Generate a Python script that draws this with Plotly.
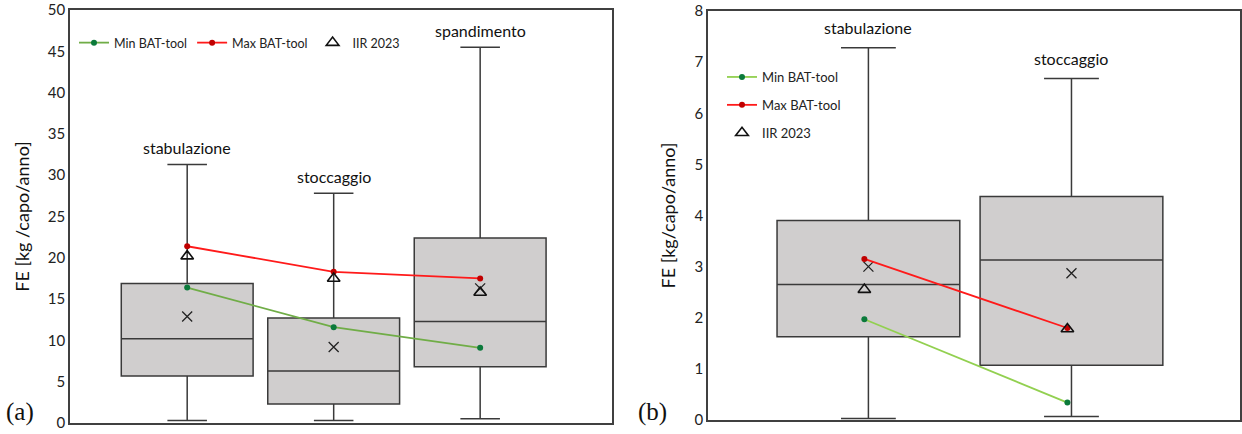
import plotly.graph_objects as go

# ---------------- data ----------------
cats_a = ["stabulazione", "stoccaggio", "spandimento"]
q1_a = [5.7, 2.3, 6.8]
med_a = [10.2, 6.3, 12.3]
q3_a = [16.9, 12.7, 22.4]
lo_a = [0.3, 0.3, 0.5]
hi_a = [31.3, 27.8, 45.5]
mean_a = [12.9, 9.2, 16.3]
iir_a = [20.2, 17.5, 15.8]
minbat_a = [16.4, 11.6, 9.1]
maxbat_a = [21.4, 18.3, 17.5]

cats_b = ["stabulazione", "stoccaggio"]
q1_b = [1.63, 1.07]
med_b = [2.65, 3.13]
q3_b = [3.9, 4.37]
lo_b = [0.03, 0.07]
hi_b = [7.28, 6.68]
mean_b = [3.0, 2.87]
iir_b = [2.55, 1.78]
minbat_b = [1.97, 0.34]
maxbat_b = [3.15, 1.8]

yticks_a = [0, 5, 10, 15, 20, 25, 30, 35, 40, 45, 50]
yticks_b = [0, 1, 2, 3, 4, 5, 6, 7, 8]

# ---------------- style ----------------
FONT = "Lato"
BOX_FILL = "#D0CECE"
BOX_LINE = "#3A3A3A"
GREEN_LINE_A = "#70AD47"
GREEN_LINE_B = "#92D050"
GREEN_MK = "#0B7A3B"
RED_LINE = "#FF1A1A"
RED_MK = "#C00000"

W, H = 1242, 434

def px_x(p):
    return p / W

def px_y(p):
    return 1 - p / H

fig = go.Figure()

xa = list(range(len(cats_a)))
xb = list(range(len(cats_b)))
off_b = -0.02

# ---- panel (a) ----
fig.add_trace(go.Box(x=xa, q1=q1_a, median=med_a, q3=q3_a, lowerfence=lo_a,
                     upperfence=hi_a, width=0.9, whiskerwidth=0.3,
                     fillcolor=BOX_FILL, line=dict(color=BOX_LINE, width=1.5),
                     boxpoints=False, showlegend=False, xaxis="x", yaxis="y"))
fig.add_trace(go.Scatter(x=xa, y=mean_a, mode="markers", showlegend=False,
                         marker=dict(symbol="x-thin-open", size=10, color="#222",
                                     line=dict(width=1.3, color="#222")),
                         xaxis="x", yaxis="y"))
fig.add_trace(go.Scatter(x=xa, y=minbat_a, mode="lines+markers", name="Min BAT-tool",
                         line=dict(color=GREEN_LINE_A, width=1.8),
                         marker=dict(color=GREEN_MK, size=6),
                         legend="legend", xaxis="x", yaxis="y"))
fig.add_trace(go.Scatter(x=xa, y=maxbat_a, mode="lines+markers", name="Max BAT-tool",
                         line=dict(color=RED_LINE, width=1.8),
                         marker=dict(color=RED_MK, size=6),
                         legend="legend", xaxis="x", yaxis="y"))
fig.add_trace(go.Scatter(x=xa, y=iir_a, mode="markers", name="IIR 2023",
                         marker=dict(symbol="triangle-up-open", size=11, color="#111",
                                     line=dict(width=1.6, color="#111")),
                         legend="legend", xaxis="x", yaxis="y"))

# ---- panel (b) ----
fig.add_trace(go.Box(x=xb, q1=q1_b, median=med_b, q3=q3_b, lowerfence=lo_b,
                     upperfence=hi_b, width=0.9, whiskerwidth=0.3,
                     fillcolor=BOX_FILL, line=dict(color=BOX_LINE, width=1.5),
                     boxpoints=False, showlegend=False, xaxis="x2", yaxis="y2"))
fig.add_trace(go.Scatter(x=xb, y=mean_b, mode="markers", showlegend=False,
                         marker=dict(symbol="x-thin-open", size=10, color="#222",
                                     line=dict(width=1.3, color="#222")),
                         xaxis="x2", yaxis="y2"))
xb_off = [v + off_b for v in xb]
fig.add_trace(go.Scatter(x=xb_off, y=minbat_b, mode="lines+markers", name="Min BAT-tool",
                         line=dict(color=GREEN_LINE_B, width=1.8),
                         marker=dict(color=GREEN_MK, size=6), legendgroup="g1",
                         legend="legend2", xaxis="x2", yaxis="y2"))
fig.add_trace(go.Scatter(x=xb_off, y=maxbat_b, mode="lines+markers", name="Max BAT-tool",
                         line=dict(color=RED_LINE, width=1.8),
                         marker=dict(color=RED_MK, size=6), legendgroup="g2",
                         legend="legend2", xaxis="x2", yaxis="y2"))
fig.add_trace(go.Scatter(x=xb_off, y=iir_b, mode="markers", name="IIR 2023",
                         marker=dict(symbol="triangle-up-open", size=11, color="#111",
                                     line=dict(width=1.6, color="#111")),
                         legendgroup="g3",
                         legend="legend2", xaxis="x2", yaxis="y2"))

# ---- annotations ----
ann = []
for i, c in enumerate(cats_a):
    ann.append(dict(x=i, y=hi_a[i], xref="x", yref="y", text=c, showarrow=False,
                    yanchor="middle", yshift=17, font=dict(family=FONT, size=16, color="#111")))
for i, c in enumerate(cats_b):
    ann.append(dict(x=i, y=hi_b[i], xref="x2", yref="y2", text=c, showarrow=False,
                    yanchor="middle", yshift=20, font=dict(family=FONT, size=16, color="#111")))
ann.append(dict(x=px_x(20), y=px_y(412), xref="paper", yref="paper", text="(a)",
                showarrow=False, xanchor="center", yanchor="middle",
                font=dict(family="Liberation Serif", size=25, color="#111")))
ann.append(dict(x=px_x(652), y=px_y(412), xref="paper", yref="paper", text="(b)",
                showarrow=False, xanchor="center", yanchor="middle",
                font=dict(family="Liberation Serif", size=25, color="#111")))

axis_common = dict(showgrid=False, zeroline=False, showline=True, mirror=True,
                   linecolor="#404040", linewidth=1.5, ticks="", automargin=False)

fig.update_layout(
    width=W, height=H, margin=dict(l=0, r=0, t=0, b=0),
    paper_bgcolor="white", plot_bgcolor="white",
    font=dict(family=FONT, color="#222"),
    xaxis=dict(domain=[px_x(70), px_x(612)], range=[-0.8, 2.9], showticklabels=False,
               **axis_common),
    yaxis=dict(domain=[px_y(423), px_y(10)], range=[0, 50], tickvals=yticks_a,
               tickfont=dict(family=FONT, size=15, color="#222"),
               title=dict(text="FE [kg /capo/anno]", standoff=14,
                          font=dict(family=FONT, size=18, color="#111")),
               **axis_common),
    xaxis2=dict(domain=[px_x(708), px_x(1240)], range=[-0.79, 1.83], showticklabels=False,
                anchor="y2", **axis_common),
    yaxis2=dict(domain=[px_y(420), px_y(11)], range=[0, 8], tickvals=yticks_b,
                anchor="x2",
                tickfont=dict(family=FONT, size=15, color="#222"),
                title=dict(text="FE [kg/capo/anno]", standoff=14,
                           font=dict(family=FONT, size=18, color="#111")),
                **axis_common),
    legend=dict(orientation="h", x=px_x(74), y=px_y(43), xanchor="left", yanchor="middle",
                bgcolor="rgba(0,0,0,0)", font=dict(family=FONT, size=12.5, color="#222"),
                itemwidth=30),
    legend2=dict(orientation="v", x=px_x(722), y=px_y(62), xanchor="left", yanchor="top",
                 bgcolor="rgba(0,0,0,0)", font=dict(family=FONT, size=13, color="#222"),
                 tracegroupgap=8),
    annotations=ann,
)

fig.write_html("out.html")
